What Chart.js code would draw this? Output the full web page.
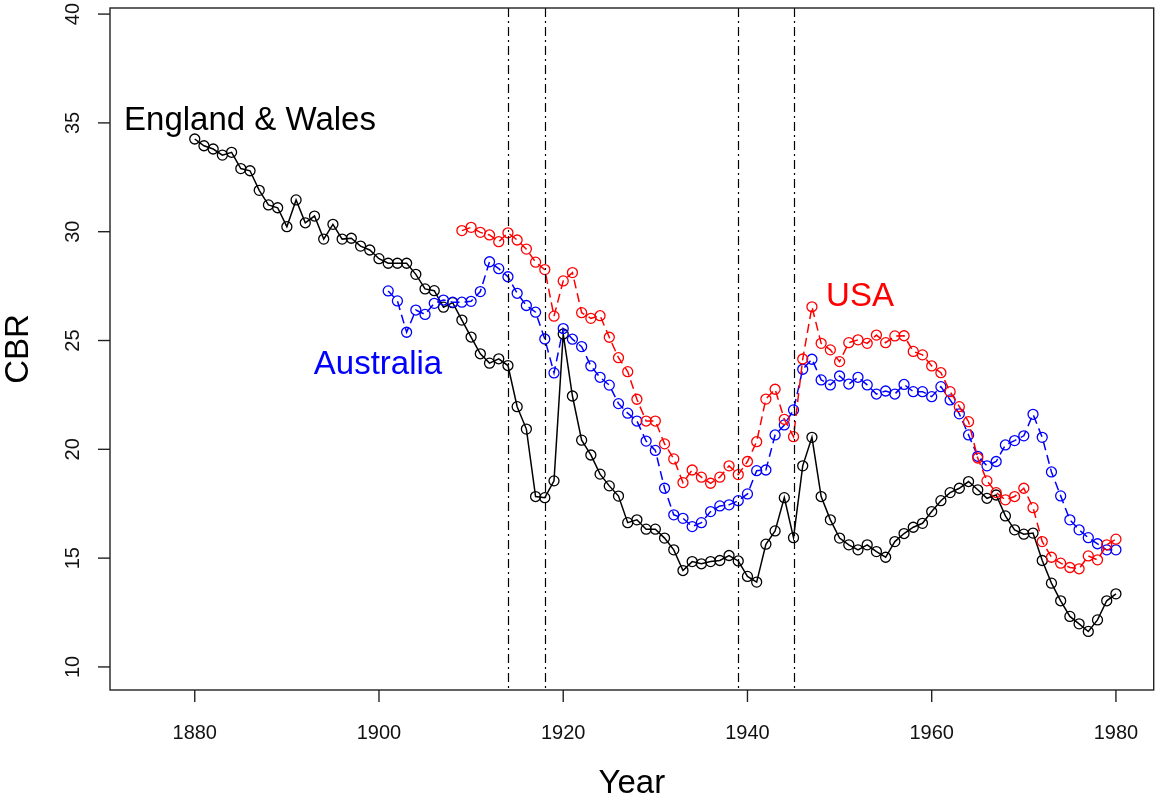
<!DOCTYPE html>
<html>
<head>
<meta charset="utf-8">
<title>Crude birth rate</title>
<script src="https://cdn.jsdelivr.net/npm/chart.js@4.4.1/dist/chart.umd.min.js"></script>
<style>
    html, body { margin: 0; padding: 0; background: #ffffff; }
    #wrap { width: 1160px; height: 800px; }
</style>
</head>
<body>
<div id="wrap"><canvas id="cbr-chart" width="1160" height="800"></canvas></div>
<script>
// ===== Data =====
const years = [
    1880, 1881, 1882, 1883, 1884, 1885, 1886, 1887, 1888, 1889,
    1890, 1891, 1892, 1893, 1894, 1895, 1896, 1897, 1898, 1899,
    1900, 1901, 1902, 1903, 1904, 1905, 1906, 1907, 1908, 1909,
    1910, 1911, 1912, 1913, 1914, 1915, 1916, 1917, 1918, 1919,
    1920, 1921, 1922, 1923, 1924, 1925, 1926, 1927, 1928, 1929,
    1930, 1931, 1932, 1933, 1934, 1935, 1936, 1937, 1938, 1939,
    1940, 1941, 1942, 1943, 1944, 1945, 1946, 1947, 1948, 1949,
    1950, 1951, 1952, 1953, 1954, 1955, 1956, 1957, 1958, 1959,
    1960, 1961, 1962, 1963, 1964, 1965, 1966, 1967, 1968, 1969,
    1970, 1971, 1972, 1973, 1974, 1975, 1976, 1977, 1978, 1979,
    1980
];

const englandWales = [
    34.26, 33.95, 33.80, 33.52, 33.65, 32.90, 32.80, 31.90, 31.23, 31.10,
    30.23, 31.46, 30.41, 30.72, 29.66, 30.34, 29.66, 29.70, 29.34, 29.16,
    28.76, 28.55, 28.55, 28.55, 28.04, 27.37, 27.29, 26.53, 26.74, 25.94,
    25.16, 24.39, 23.96, 24.16, 23.85, 21.96, 20.93, 17.83, 17.78, 18.55,
    25.30, 22.45, 20.42, 19.74, 18.86, 18.32, 17.85, 16.63, 16.76, 16.33,
    16.33, 15.92, 15.38, 14.43, 14.84, 14.74, 14.84, 14.89, 15.12, 14.87,
    14.16, 13.90, 15.64, 16.25, 17.78, 15.94, 19.24, 20.55, 17.83, 16.76,
    15.92, 15.61, 15.38, 15.61, 15.30, 15.04, 15.76, 16.13, 16.42, 16.60,
    17.14, 17.64, 18.01, 18.21, 18.52, 18.14, 17.75, 17.90, 16.94, 16.30,
    16.10, 16.15, 14.89, 13.85, 13.04, 12.32, 11.98, 11.63, 12.16, 13.04,
    13.36
];

const australia = [
    null, null, null, null, null, null, null, null, null, null,
    null, null, null, null, null, null, null, null, null, null,
    null, 27.28, 26.82, 25.38, 26.40, 26.20, 26.71, 26.86, 26.76, 26.76,
    26.80, 27.25, 28.62, 28.30, 27.93, 27.17, 26.61, 26.30, 25.07, 23.51,
    25.55, 25.06, 24.72, 23.83, 23.31, 22.95, 22.10, 21.66, 21.30, 20.38,
    19.95, 18.21, 16.99, 16.83, 16.45, 16.63, 17.14, 17.40, 17.45, 17.64,
    17.95, 19.02, 19.05, 20.66, 21.12, 21.81, 23.68, 24.14, 23.19, 22.96,
    23.37, 23.00, 23.31, 22.96, 22.54, 22.68, 22.54, 22.98, 22.65, 22.65,
    22.42, 22.88, 22.27, 21.63, 20.66, 19.68, 19.24, 19.44, 20.20, 20.40,
    20.62, 21.61, 20.55, 18.96, 17.86, 16.76, 16.30, 15.94, 15.66, 15.38,
    15.38
];

const usa = [
    null, null, null, null, null, null, null, null, null, null,
    null, null, null, null, null, null, null, null, null, null,
    null, null, null, null, null, null, null, null, null, 30.05,
    30.20, 29.97, 29.85, 29.54, 29.95, 29.62, 29.20, 28.60, 28.26, 26.12,
    27.74, 28.12, 26.28, 26.02, 26.14, 25.15, 24.21, 23.57, 22.30, 21.30,
    21.30, 20.25, 19.56, 18.47, 19.05, 18.72, 18.44, 18.72, 19.24, 18.84,
    19.44, 20.35, 22.31, 22.76, 21.38, 20.58, 24.15, 26.55, 24.87, 24.57,
    24.03, 24.90, 25.03, 24.87, 25.25, 24.90, 25.21, 25.22, 24.50, 24.34,
    23.83, 23.52, 22.65, 21.96, 21.27, 19.60, 18.55, 18.01, 17.68, 17.83,
    18.21, 17.32, 15.76, 15.04, 14.77, 14.57, 14.51, 15.10, 14.92, 15.61,
    15.87
];

// war start / end years (dot-dash reference lines)
const warYears = [1914, 1918, 1939, 1945];

// tick labels
const xTicks = [1880, 1900, 1920, 1940, 1960, 1980];
const yTicks = [10, 15, 20, 25, 30, 35, 40];

// ===== Helpers =====
const FONT = "'Liberation Sans', Arial, sans-serif";

function toPoints(values) {
    const pts = [];
    values.forEach(function(v, i) {
        if (v !== null) pts.push({ x: years[i], y: v });
    });
    return pts;
}

function seriesStyle(color, dash) {
    return {
        borderColor: color,
        borderWidth: 1.5,
        borderDash: dash,
        pointStyle: "circle",
        pointRadius: 5,
        pointBorderWidth: 1.3,
        pointBorderColor: color,
        pointBackgroundColor: "rgba(0,0,0,0)",
        pointHoverRadius: 5,
        tension: 0,
        fill: false,
    };
}

// ===== Plugin: R style box, ticks, labels, reference lines =====
const baseGraphics = {
    id: "baseGraphics",
    afterDatasetsDraw: function(chart) {
        const ctx = chart.ctx;
        const xs = chart.scales.x;
        const area = chart.chartArea;

        // dot-dash lines at the war years
        ctx.save();
        ctx.strokeStyle = "#000000";
        ctx.lineWidth = 1.2;
        ctx.setLineDash([9, 4, 2, 4]);
        warYears.forEach(function(yr) {
            const px = Math.round(xs.getPixelForValue(yr)) + 0.5;
            ctx.beginPath();
            ctx.moveTo(px, area.top);
            ctx.lineTo(px, area.bottom);
            ctx.stroke();
        });
        ctx.restore();
    },
    afterDraw: function(chart) {
        const ctx = chart.ctx;
        const xs = chart.scales.x;
        const ys = chart.scales.y;
        const area = chart.chartArea;

        ctx.save();
        ctx.strokeStyle = "#222222";
        ctx.lineWidth = 1.4;
        ctx.setLineDash([]);

        // box
        ctx.strokeRect(area.left, area.top, area.right - area.left, area.bottom - area.top);

        // x ticks
        ctx.fillStyle = "#111111";
        ctx.font = "20px " + FONT;
        ctx.textAlign = "center";
        ctx.textBaseline = "middle";
        xTicks.forEach(function(t) {
            const px = xs.getPixelForValue(t);
            ctx.beginPath();
            ctx.moveTo(px, area.bottom);
            ctx.lineTo(px, area.bottom + 12);
            ctx.stroke();
            ctx.fillText(String(t), px, 733);
        });

        // y ticks (labels parallel to the axis)
        yTicks.forEach(function(t) {
            const py = ys.getPixelForValue(t);
            ctx.beginPath();
            ctx.moveTo(area.left, py);
            ctx.lineTo(area.left - 12, py);
            ctx.stroke();
            ctx.save();
            ctx.translate(73, py);
            ctx.rotate(-Math.PI / 2);
            ctx.fillText(String(t), 0, 0);
            ctx.restore();
        });

        // axis titles
        ctx.fillStyle = "#000000";
        ctx.font = "33px " + FONT;
        ctx.fillText("Year", (area.left + area.right) / 2, 784);
        ctx.save();
        ctx.translate(19, (area.top + area.bottom) / 2);
        ctx.rotate(-Math.PI / 2);
        ctx.fillText("CBR", 0, 0);
        ctx.restore();

        // series labels
        ctx.fillStyle = "#000000";
        ctx.fillText("England & Wales", 250, 121);
        ctx.fillStyle = "#0000ff";
        ctx.fillText("Australia", 378, 365);
        ctx.fillStyle = "#ff0000";
        ctx.fillText("USA", 860, 297);
        ctx.restore();
    }
};

// ===== Chart =====
const ctx = document.getElementById("cbr-chart").getContext("2d");

const cbrChart = new Chart(ctx, {
    type: "line",
    data: {
        datasets: [
            Object.assign({ label: "England & Wales", data: toPoints(englandWales), order: 3 }, seriesStyle("#000000", [])),
            Object.assign({ label: "Australia", data: toPoints(australia), order: 2 }, seriesStyle("#0000ff", [9, 5])),
            Object.assign({ label: "USA", data: toPoints(usa), order: 1 }, seriesStyle("#ff0000", [9, 5])),
        ],
    },
    options: {
        responsive: false,
        animation: false,
        layout: { padding: { left: 110, right: 3, top: 8, bottom: 110 } },
        scales: {
            x: { type: "linear", min: 1870.8, max: 1984.1, display: false },
            y: { type: "linear", min: 8.94, max: 40.28, display: false },
        },
        plugins: {
            legend: { display: false },
            tooltip: { enabled: false },
        },
    },
    plugins: [baseGraphics],
});
</script>
</body>
</html>
